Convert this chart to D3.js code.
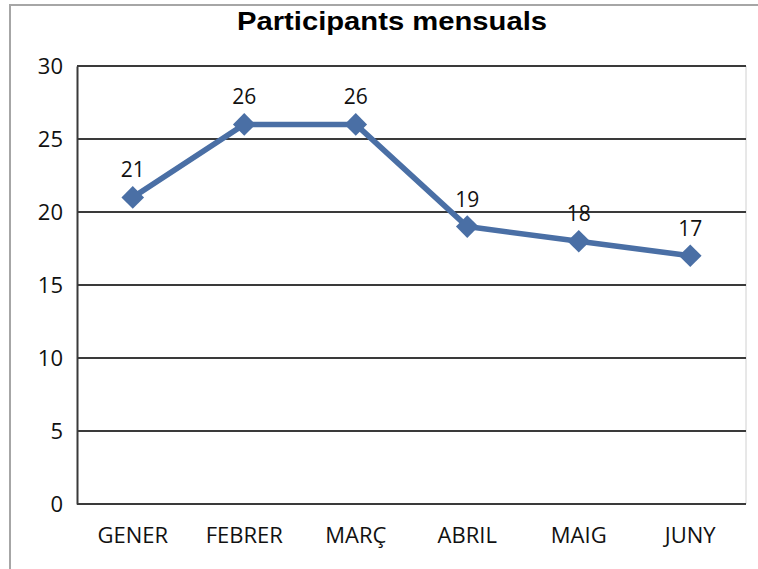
<!DOCTYPE html>
<html>
<head>
<meta charset="utf-8">
<script src="https://cdn.jsdelivr.net/npm/d3@7"></script>
<style>
  html, body { margin: 0; padding: 0; background: #fff; }
  svg { display: block; }
</style>
</head>
<body>
<script>
const title = "Participants mensuals";
const months = ["GENER", "FEBRER", "MARÇ", "ABRIL", "MAIG", "JUNY"];
const participants = [21, 26, 26, 19, 18, 17];
const yTicks = [0, 5, 10, 15, 20, 25, 30];

const W = 758, H = 569;
const plot = { left: 77, right: 746, top: 66, bottom: 504 };

const svg = d3.select("body").append("svg").attr("width", W).attr("height", H);

// outer frame
svg.append("path")
  .attr("d", `M10,${H} L10,5 L${W},5`)
  .attr("fill", "none").attr("stroke", "#a6a6a6").attr("stroke-width", 2);

svg.append("text")
  .attr("x", 392).attr("y", 30)
  .attr("text-anchor", "middle")
  .attr("font-family", "Liberation Sans, Arial, sans-serif")
  .attr("font-weight", "bold").attr("font-size", 25)
  .attr("textLength", 310).attr("lengthAdjust", "spacingAndGlyphs")
  .attr("fill", "#000")
  .text(title);

const x = d3.scaleBand().domain(months).range([plot.left, plot.right]);
const y = d3.scaleLinear().domain([0, 30]).range([plot.bottom, plot.top]);

// plot area right border
svg.append("line")
  .attr("x1", plot.right).attr("x2", plot.right)
  .attr("y1", plot.top).attr("y2", plot.bottom)
  .attr("stroke", "#d0d0d0").attr("stroke-width", 1);

// gridlines
svg.append("g").selectAll("line").data(yTicks).join("line")
  .attr("x1", plot.left).attr("x2", plot.right)
  .attr("y1", d => y(d)).attr("y2", d => y(d))
  .attr("stroke", "#3a3a3a").attr("stroke-width", 2);

// y axis
const yAxis = svg.append("g")
  .attr("transform", `translate(${plot.left},0)`)
  .call(d3.axisLeft(y).tickValues(yTicks).tickSize(0).tickPadding(14));
yAxis.select(".domain").attr("stroke", "#3a3a3a").attr("stroke-width", 2);
yAxis.selectAll("text")
  .attr("font-family", "Open Sans, sans-serif").attr("font-size", 22).attr("fill", "#111");

// x axis
const xAxis = svg.append("g")
  .attr("transform", `translate(0,${plot.bottom})`)
  .call(d3.axisBottom(x).tickSize(0).tickPadding(23));
xAxis.select(".domain").remove();
xAxis.selectAll("text")
  .attr("font-family", "Open Sans, sans-serif").attr("font-size", 22).attr("fill", "#111");

const cx = d => x(d) + x.bandwidth() / 2;
const pts = months.map((m, i) => ({ m, v: participants[i] }));

svg.append("path")
  .datum(pts)
  .attr("d", d3.line().x(d => cx(d.m)).y(d => y(d.v)))
  .attr("fill", "none").attr("stroke", "#4A6FA5").attr("stroke-width", 5.5)
  .attr("stroke-linejoin", "round");

svg.append("g").selectAll("path").data(pts).join("path")
  .attr("transform", d => `translate(${cx(d.m)},${y(d.v)}) rotate(45)`)
  .attr("d", "M-8,-8 L8,-8 L8,8 L-8,8 Z")
  .attr("fill", "#4A6FA5");

svg.append("g").selectAll("text").data(pts).join("text")
  .attr("x", d => cx(d.m))
  .attr("y", d => y(d.v) - 20)
  .attr("text-anchor", "middle")
  .attr("font-family", "Open Sans, sans-serif").attr("font-size", 21).attr("fill", "#111")
  .text(d => d.v);
</script>
</body>
</html>
